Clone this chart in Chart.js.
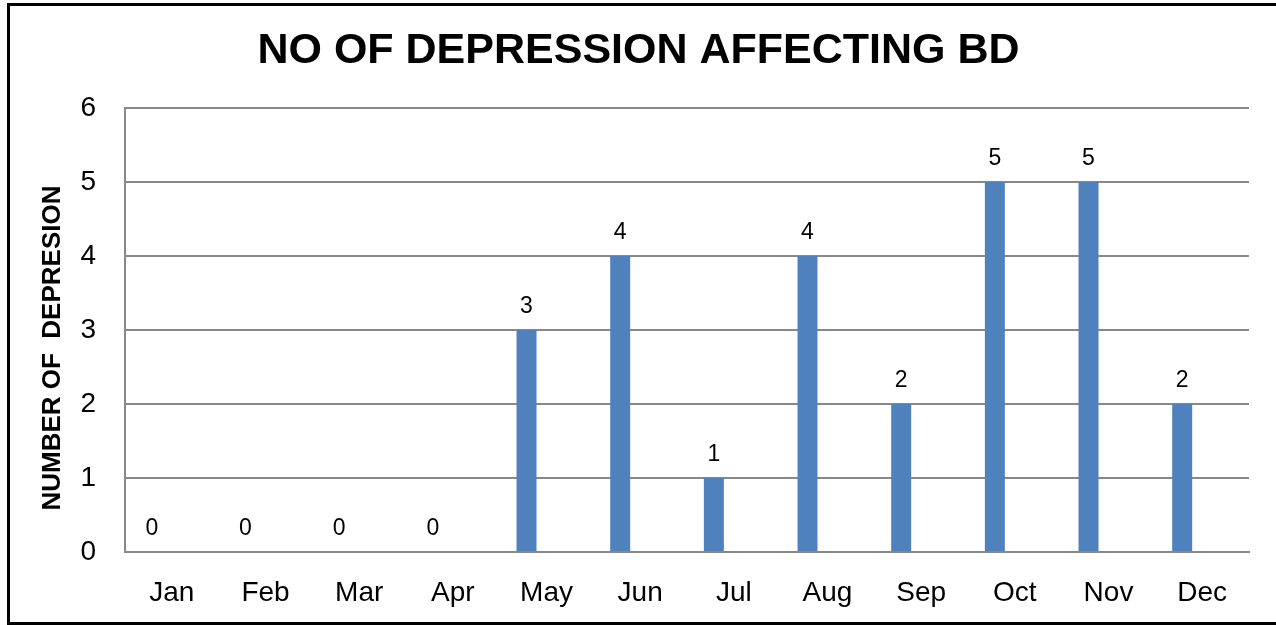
<!DOCTYPE html>
<html>
<head>
<meta charset="utf-8">
<script src="https://cdn.jsdelivr.net/npm/chart.js@4/dist/chart.umd.min.js"></script>
<style>
  html, body { margin: 0; padding: 0; background: #fff; }
  #wrap { width: 1276px; height: 625px; }
</style>
</head>
<body>
<div id="wrap"><canvas id="chart" width="1276" height="625"></canvas></div>
<script>
// Dados
const months = ['Jan','Feb','Mar','Apr','May','Jun','Jul','Aug','Sep','Oct','Nov','Dec'];
const depressions = [0, 0, 0, 0, 3, 4, 1, 4, 2, 5, 5, 2];
const emptySeries = [null, null, null, null, null, null, null, null, null, null, null, null];
const yTicks = [0, 1, 2, 3, 4, 5, 6];

const FONT = "'Liberation Sans', Arial, sans-serif";
const GRID = '#888888';

// moldura preta em volta do gráfico
const frame = {
  id: 'frame',
  afterDraw(chart) {
    const ctx = chart.ctx;
    ctx.save();
    ctx.strokeStyle = '#000';
    ctx.lineWidth = 3;
    ctx.strokeRect(8.5, 4.5, 1300, 619);
    ctx.restore();
  }
};

// rótulos de valor acima das barras
const valueLabels = {
  id: 'valueLabels',
  afterDatasetsDraw(chart) {
    const ctx = chart.ctx;
    const meta = chart.getDatasetMeta(0);
    ctx.save();
    ctx.font = '23px ' + FONT;
    ctx.fillStyle = '#000';
    ctx.textAlign = 'center';
    ctx.textBaseline = 'alphabetic';
    meta.data.forEach((bar, i) => {
      ctx.fillText(String(depressions[i]), bar.x, bar.y - 17);
    });
    ctx.restore();
  }
};

new Chart(document.getElementById('chart'), {
  type: 'bar',
  data: {
    labels: months,
    datasets: [
      { data: depressions, backgroundColor: '#4F81BD' },
      { data: emptySeries, backgroundColor: '#C0504D' },
      { data: emptySeries, backgroundColor: '#9BBB59' }
    ]
  },
  options: {
    responsive: false,
    animation: false,
    categoryPercentage: 0.64,
    barPercentage: 1.0,
    layout: { padding: { top: 10, left: 28, right: 27, bottom: 0 } },
    plugins: {
      legend: { display: false },
      tooltip: { enabled: false },
      title: {
        display: true,
        text: 'NO OF DEPRESSION AFFECTING BD',
        color: '#000',
        font: { family: FONT, size: 43, weight: 'bold' },
        padding: { top: 15, bottom: 31.4 }
      }
    },
    scales: {
      x: {
        grid: { display: false, drawTicks: false },
        border: { display: true, color: GRID, width: 2 },
        ticks: {
          color: '#000',
          font: { family: FONT, size: 28 },
          padding: 24,
          maxRotation: 0
        },
        afterFit(s) { s.height = 73; }
      },
      y: {
        min: 0,
        max: 6,
        afterBuildTicks(s) { s.ticks = yTicks.map(v => ({ value: v })); },
        grid: { color: GRID, lineWidth: 2, drawTicks: false },
        border: { display: true, color: GRID, width: 2 },
        ticks: {
          color: '#000',
          font: { family: FONT, size: 28 },
          padding: 29
        },
        title: {
          display: true,
          text: 'NUMBER OF  DEPRESION\u00a0\u00a0\u00a0\u00a0\u00a0',
          color: '#000',
          font: { family: FONT, size: 26, weight: 'bold' },
          padding: { top: 9, bottom: 10 }
        },
        afterFit(s) { s.width = 97; }
      }
    }
  },
  plugins: [frame, valueLabels]
});
</script>
</body>
</html>
